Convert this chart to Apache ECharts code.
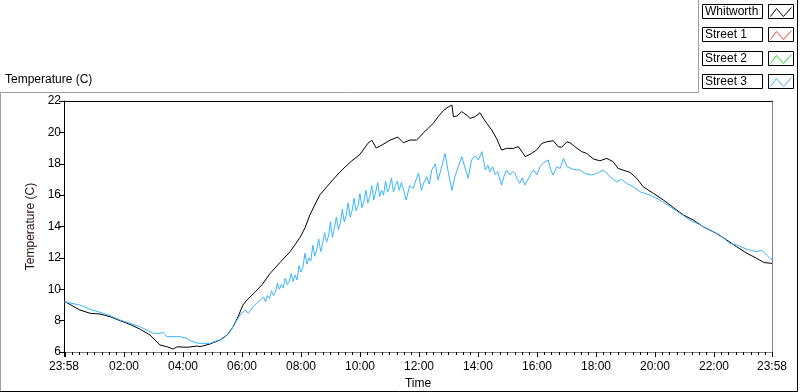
<!DOCTYPE html>
<html><head><meta charset="utf-8">
<script src="https://cdn.jsdelivr.net/npm/echarts@6/dist/echarts.min.js"></script>
<style>html,body{margin:0;padding:0;background:#fff}#c{width:800px;height:392px}</style>
</head><body><div id="c"></div>
<script>
// Series names and colours
const seriesNames = ['Whitworth', 'Street 1', 'Street 2', 'Street 3'];
const seriesColors = ['#000000', '#ff4040', '#22dd22', '#38b6ff'];

// Time in minutes from midnight (-2 = 23:58 of previous day)
const whitworthTimes = [-2,30,51,71,92,112,132,153,173,193,207,220,228,248,269,275,295,315,330,342,352,362,370,386,401,417,437,458,478,488,498,518,539,559,580,600,616,624,633,645,661,677,688,702,715,722,729,739,749,759,770,780,787,790,797,807,817,824,834,844,851,858,868,878,888,898,912,922,932,936,949,959,970,980,993,1003,1010,1021,1027,1037,1051,1061,1075,1088,1102,1115,1125,1149,1163,1176,1197,1217,1237,1258,1278,1298,1325,1346,1366,1387,1407,1422,1438];
const whitworthTemps = [9.25,8.68,8.47,8.42,8.25,8.0,7.76,7.45,7.08,6.45,6.34,6.19,6.33,6.3,6.38,6.34,6.51,6.76,7.08,7.61,8.25,9.0,9.31,9.8,10.3,11.0,11.7,12.4,13.3,13.9,14.73,16.0,16.77,17.47,18.1,18.6,19.3,19.5,19.0,19.2,19.5,19.7,19.34,19.51,19.51,19.72,19.98,20.26,20.58,21.0,21.4,21.63,21.74,21.0,21.04,21.32,21.1,20.89,21.0,21.25,20.89,20.57,20.15,19.6,18.87,18.98,18.98,19.09,18.66,18.45,18.66,18.87,19.3,19.4,19.47,19.09,19.05,19.4,19.34,19.09,18.77,18.66,18.3,18.19,18.34,18.13,17.7,17.45,17.07,16.53,16.11,15.69,15.22,14.73,14.41,13.99,13.56,13.14,12.71,12.29,11.97,11.7,11.65];

const street1Times = [];
const street1Temps = [];
const street2Times = [];
const street2Temps = [];

const street3Times = [-2,30,51,85,112,132,153,166,180,193,200,207,227,234,248,254,261,271,275,295,309,322,336,346,356,366,373,380,390,397,
  400,404,408,412,416,420,424,428,432,436,440,444,448,452,456,460,464,468,472,476,480,484,488,492,496,500,504,508,512,516,520,524,528,532,536,540,544,548,552,556,560,564,568,572,576,580,584,588,592,596,600,604,608,612,616,620,624,628,632,636,640,644,648,652,656,660,664,668,672,676,680,684,688,
  694,701,708,713,719,725,730,736,741,746,753,759,766,773,780,787,793,800,807,814,820,827,834,841,848,855,860,864,870,875,880,885,888,893,898,905,910,915,920,925,930,935,943,948,953,960,966,975,983,988,993,1000,1007,1014,1021,1034,1047,1058,1071,1081,1095,1109,1122,1132,1142,1156,1170,1190,1210,1231,1251,1271,1292,1312,1332,1352,1366,1387,1407,1417,1427,1434,1438];
const street3Temps = [9.2,9.0,8.72,8.4,8.04,7.83,7.61,7.4,7.19,7.19,7.25,6.98,6.98,6.98,6.87,6.72,6.66,6.55,6.55,6.55,6.72,6.87,7.3,7.83,8.36,8.68,8.47,8.78,9.1,9.31,
  9.3,9.5,9.2,9.6,9.4,9.9,9.6,9.8,10.4,10.0,10.3,10.1,10.7,10.3,10.5,11.0,10.5,10.9,10.6,11.5,11.1,11.4,12.3,11.6,12.0,11.8,12.8,12.1,12.5,13.2,12.4,12.9,13.6,13.0,13.4,14.3,13.3,13.9,14.6,13.8,14.2,15.1,14.3,14.7,15.5,14.6,15.0,15.8,15.0,15.3,16.1,15.2,15.6,16.3,15.5,15.9,16.6,15.7,16.2,16.8,15.9,16.3,16.0,16.9,16.2,16.5,17.1,16.2,16.6,16.9,16.3,16.8,16.4,
  15.69,16.6,16.43,16.9,17.4,16.3,16.8,17.17,16.7,17.6,18.0,16.96,17.8,18.66,17.4,16.3,17.17,17.8,18.45,17.7,17.07,18.24,18.5,18.24,18.77,17.6,17.9,17.5,17.8,17.3,17.5,16.96,16.64,17.2,17.6,17.28,17.5,17.4,17.0,16.75,17.1,16.64,17.07,17.4,17.6,17.3,17.81,18.1,18.24,17.6,17.28,17.81,17.7,18.34,17.81,17.64,17.6,17.38,17.28,17.38,17.6,17.17,16.85,17.0,16.75,16.53,16.21,16.0,15.69,15.26,14.84,14.41,14.1,13.78,13.46,12.93,12.82,12.55,12.39,12.5,12.18,11.97,11.9];

// Axis ticks
const xTickMinutes = [-2,120,240,360,480,600,720,840,960,1080,1200,1320,1438];
const xTickLabels = ['23:58','02:00','04:00','06:00','08:00','10:00','12:00','14:00','16:00','18:00','20:00','22:00','23:58'];
const xMinorStep = 15;
const yMin = 6, yMax = 22, yStep = 2;

const pair = (t, v) => t.map((x, i) => [x, v[i]]);
const seriesData = [pair(whitworthTimes, whitworthTemps), pair(street1Times, street1Temps), pair(street2Times, street2Temps), pair(street3Times, street3Temps)];

const xMin = xTickMinutes[0], xMax = xTickMinutes[xTickMinutes.length - 1];
const majorTicks = [xMin, 0].concat(xTickMinutes.slice(1));
const minorTicks = [];
for (let m = xMinorStep; m < xMax; m += xMinorStep) if (m % 120 !== 0) minorTicks.push(m);

const FONT = 'Liberation Sans';
const chart = echarts.init(document.getElementById('c'), null, {renderer: 'canvas'});

const graphics = [];
graphics.push({type: 'polyline', shape: {points: [[0.5, 391], [0.5, 92.5], [698.5, 92.5], [698.5, 0]]}, style: {stroke: '#a0a0a0', lineWidth: 1, fill: null}, silent: true});
graphics.push({type: 'polyline', shape: {points: [[797.5, 0], [797.5, 391.5], [0, 391.5]]}, style: {stroke: '#000', lineWidth: 1, fill: null}, silent: true});
graphics.push({type: 'text', left: 5, top: 74, style: {text: 'Temperature (C)', font: '12px ' + FONT, fill: '#000'}, silent: true});
seriesNames.forEach((name, i) => {
  const y0 = Math.round(4 + i * 23.3) + 0.5;
  graphics.push({type: 'rect', shape: {x: 702.5, y: y0, width: 60, height: 14}, style: {fill: '#fff', stroke: '#000', lineWidth: 1}, silent: true});
  graphics.push({type: 'text', x: 705, y: y0 + 7.5, style: {text: name, font: '12px ' + FONT, fill: '#000', verticalAlign: 'middle'}, silent: true});
  graphics.push({type: 'rect', shape: {x: 768.5, y: y0, width: 25, height: 14}, style: {fill: '#fff', stroke: '#000', lineWidth: 1}, silent: true});
  graphics.push({type: 'polyline', shape: {points: [[770.5, y0 + 12], [776.5, y0 + 4], [783.5, y0 + 12], [791.5, y0 + 3]]}, style: {stroke: seriesColors[i], lineWidth: 1, fill: null}, silent: true});
});

chart.setOption({
  animation: false,
  backgroundColor: '#fff',
  textStyle: {fontFamily: FONT},
  grid: {left: 64, right: 28, top: 101, bottom: 40, containLabel: false, outerBoundsMode: 'none'},
  graphic: graphics,
  xAxis: [
    {type: 'value', min: xMin, max: xMax, position: 'bottom',
     name: 'Time', nameLocation: 'middle', nameGap: 26,
     nameTextStyle: {fontSize: 12, color: '#000', fontFamily: FONT},
     axisLine: {show: true, onZero: false, lineStyle: {color: '#808080', width: 1}},
     axisTick: {show: true, inside: false, customValues: majorTicks, length: 5, lineStyle: {color: '#000', width: 1}},
     axisLabel: {show: true, customValues: xTickMinutes, margin: 9, fontSize: 12, color: '#000', fontFamily: FONT,
       formatter: v => { const k = xTickMinutes.indexOf(v); return k >= 0 ? xTickLabels[k] : ''; }},
     splitLine: {show: false}},
    {type: 'value', min: xMin, max: xMax, position: 'bottom',
     axisLine: {show: false, onZero: false},
     axisTick: {show: true, inside: false, customValues: minorTicks, length: 3, lineStyle: {color: '#000', width: 1}},
     axisLabel: {show: false}, splitLine: {show: false}},
    {type: 'value', min: xMin, max: xMax, position: 'top',
     axisLine: {show: true, onZero: false, lineStyle: {color: '#000', width: 1}},
     axisTick: {show: false}, axisLabel: {show: false}, splitLine: {show: false}}
  ],
  yAxis: [
    {type: 'value', min: yMin, max: yMax, interval: yStep, position: 'left',
     name: 'Temperature (C)', nameLocation: 'middle', nameGap: 25, nameRotate: 90,
     nameTextStyle: {fontSize: 12, color: '#2a1010', fontFamily: FONT},
     axisLine: {show: true, onZero: false, lineStyle: {color: '#000', width: 1}},
     axisTick: {show: true, inside: false, length: 5, lineStyle: {color: '#000'}},
     axisLabel: {fontSize: 12, color: '#000', margin: 3, fontFamily: FONT},
     splitLine: {show: false}},
    {type: 'value', min: yMin, max: yMax, position: 'right',
     axisLine: {show: true, onZero: false, lineStyle: {color: '#808080', width: 1}},
     axisTick: {show: false}, axisLabel: {show: false}, splitLine: {show: false}}
  ],
  series: seriesNames.map((n, i) => ({
    name: n, type: 'line', xAxisIndex: 0, yAxisIndex: 0, data: seriesData[i],
    showSymbol: false, symbol: 'none', lineStyle: {color: seriesColors[i], width: 1}, itemStyle: {color: seriesColors[i]}
  }))
});
</script></body></html>
